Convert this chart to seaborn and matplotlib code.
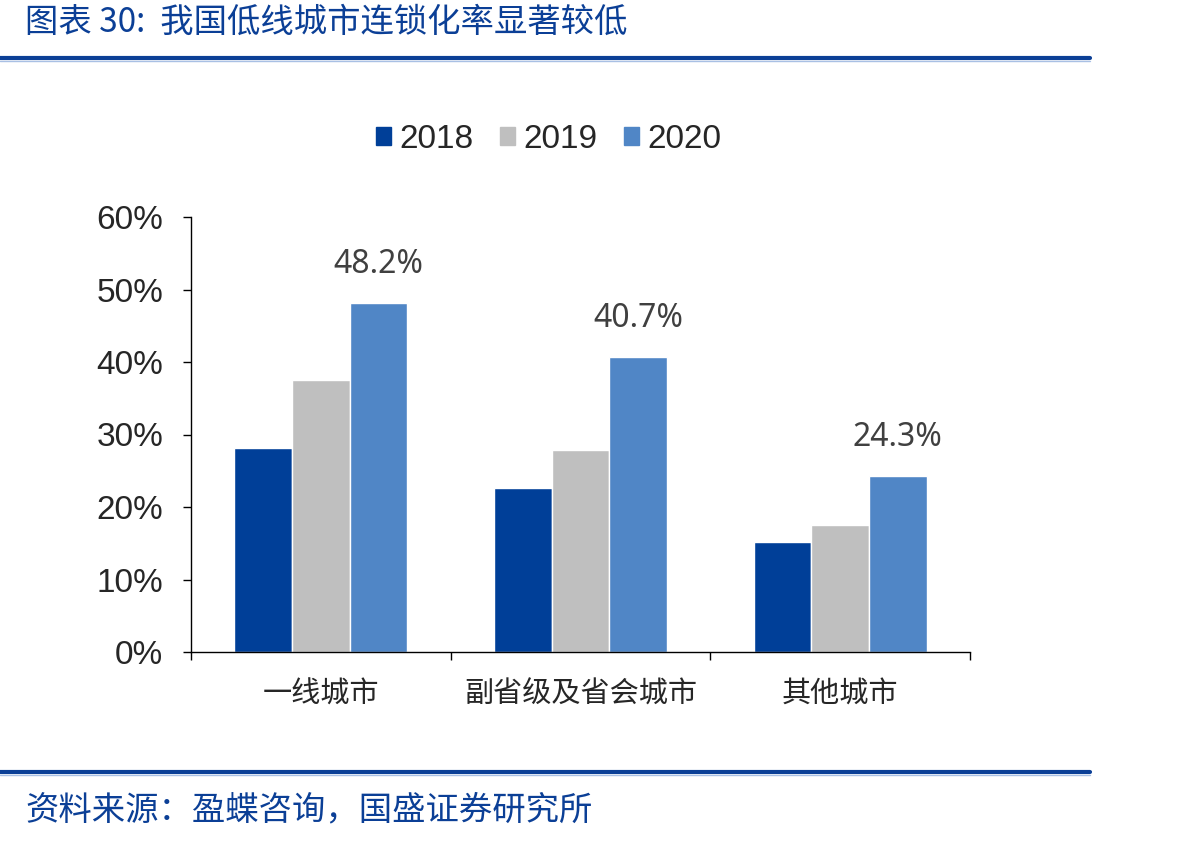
import pandas as pd
import seaborn as sns
import matplotlib.pyplot as plt
from matplotlib.lines import Line2D

categories = ["一线城市", "副省级及省会城市", "其他城市"]
years = ["2018", "2019", "2020"]
v2018 = [28.1, 22.6, 15.2]
v2019 = [37.5, 27.9, 17.5]
v2020 = [48.2, 40.7, 24.3]
colors = ["#003F98", "#BFBFBF", "#5086C6"]

rows = []
for yr, vals in zip(years, [v2018, v2019, v2020]):
    for c, v in zip(categories, vals):
        rows.append({"cat": c, "year": yr, "val": v})
df = pd.DataFrame(rows)

sns.set_style("white")
plt.rcParams["font.family"] = ["Liberation Sans", "Noto Sans CJK SC", "DejaVu Sans"]
cjk = ["Noto Sans CJK SC", "DejaVu Sans"]

fig = plt.figure(figsize=(11.92, 8.43), dpi=100)
ax = fig.add_axes([191 / 1192, 191 / 843, 779 / 1192, 435 / 843])

sns.barplot(data=df, x="cat", y="val", hue="year", palette=colors,
            width=0.665, saturation=1, ax=ax, legend=False)

# labels above 2020 bars
for i, v in enumerate(v2020):
    ax.text(i + 0.665 / 3, v + 4.1, f"{v:.1f}%", ha="center", va="baseline",
            fontsize=23, color="#404040", family=["Noto Sans", "DejaVu Sans"])

ax.set_ylim(0, 60)
ax.set_xlim(-0.5, 2.5)
ax.set_yticks(range(0, 61, 10))
ax.set_yticklabels([f"{t}%" for t in range(0, 61, 10)], fontsize=24)
ax.set_xticks(range(3))
ax.set_xticklabels(categories, fontsize=21, family=cjk)
ax.set_xticks([-0.5, 0.5, 1.5, 2.5], minor=True)
ax.tick_params(bottom=True, left=True, which="both")
ax.tick_params(axis="x", which="major", length=0, pad=20)
ax.tick_params(axis="x", which="minor", length=6, width=1, direction="out", color="black")
ax.tick_params(axis="y", length=6, width=1, direction="out", color="black", pad=14)
ax.set_xlabel("")
ax.set_ylabel("")
for s in ["top", "right"]:
    ax.spines[s].set_visible(False)
for s in ["left", "bottom"]:
    ax.spines[s].set_color("black")
    ax.spines[s].set_linewidth(1)

handles = [plt.Rectangle((0, 0), 1, 1, color=c) for c in colors]
fig.legend(handles, years, loc="center", bbox_to_anchor=(549 / 1192, 1 - 139 / 843),
           ncol=3, frameon=False, fontsize=24, handlelength=0.45, handleheight=0.45,
           handletextpad=0.25, columnspacing=0.8)

# title, source and rules
fig.text(25 / 1192, 1 - 22 / 843, "图表 30:  我国低线城市连锁化率显著较低", fontsize=24,
         color="#0B3F96", va="center", ha="left", style="italic", family=cjk)
fig.text(25 / 1192, 1 - 810 / 843, "资料来源：盈蝶咨询，国盛证券研究所", fontsize=24,
         color="#0B3F96", va="center", ha="left", style="italic", family=cjk)
for y in [58, 772]:
    fig.add_artist(Line2D([0, 1090 / 1192], [1 - y / 843] * 2, color="#0B3F96", lw=3))
    fig.add_artist(Line2D([0, 1090 / 1192], [1 - (y + 3) / 843] * 2, color="#A9C0E4", lw=1))

fig.savefig("out.png", dpi=100)
